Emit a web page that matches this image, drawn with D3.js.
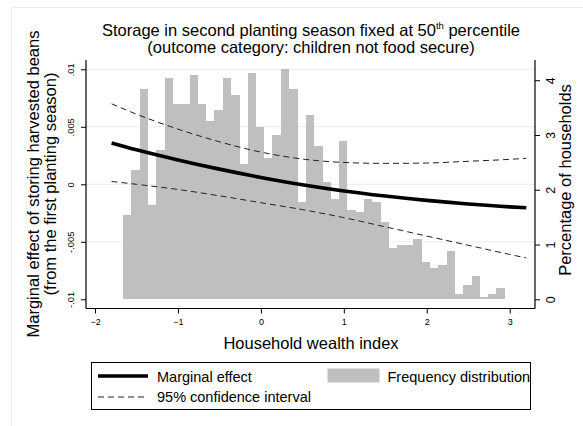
<!DOCTYPE html>
<html>
<head>
<meta charset="utf-8">
<script src="https://cdn.jsdelivr.net/npm/d3@7"></script>
<style>
  body { margin: 0; background: #fff; }
  svg { display: block; font-family: "Liberation Sans", Arial, sans-serif; }
</style>
</head>
<body>
<div id="chart"></div>
<script>
// histogram of the wealth index (percentage of households per 0.1 bin)
const binLeft = [
    -1.66, -1.56, -1.46, -1.36, -1.26, -1.16, -1.06, -0.96, -0.86, -0.76,
    -0.66, -0.56, -0.46, -0.36, -0.26, -0.16, -0.06, 0.04, 0.14, 0.24,
    0.34, 0.44, 0.54, 0.64, 0.74, 0.84, 0.94, 1.04, 1.14, 1.24,
    1.34, 1.44, 1.54, 1.64, 1.74, 1.84, 1.94, 2.04, 2.14, 2.24,
    2.34, 2.44, 2.54, 2.64, 2.74, 2.84
];
const binWidth = 0.1;
const pctHouseholds = [
    1.53, 2.36, 3.84, 1.72, 2.72, 4.04, 3.57, 3.57, 4.09, 3.57,
    3.25, 3.45, 4.04, 3.73, 2.47, 4.14, 3.15, 2.58, 3.00, 4.20,
    3.84, 1.78, 3.36, 2.79, 2.15, 1.84, 2.89, 1.63, 1.59, 1.83,
    1.77, 1.41, 0.94, 0.99, 0.99, 1.10, 0.69, 0.58, 0.63, 0.88,
    0.10, 0.26, 0.43, 0.05, 0.10, 0.20
];

// marginal effect and 95% CI read along the wealth index
const wealthX = [-1.8, -1.5, -1, -0.5, 0, 0.5, 1, 1.5, 2, 2.5, 3, 3.2];
const marginalEffect = [0.0036, 0.0030, 0.00212, 0.00132, 0.0006, -0.00004, -0.00058, -0.00102, -0.0014, -0.00171, -0.00196, -0.00204];
const ciUpper = [0.0070, 0.0061, 0.0048, 0.0037, 0.0028, 0.0022, 0.0019, 0.00182, 0.00185, 0.0020, 0.00217, 0.00226];
const ciLower = [0.00025, 0.0000, -0.00045, -0.0010, -0.0016, -0.0022, -0.0029, -0.0037, -0.0045, -0.0053, -0.0061, -0.0064];

const xTicks = [-2, -1, 0, 1, 2, 3];
const yLeftTicks = [-0.01, -0.005, 0, 0.005, 0.01];
const yLeftGrid = [-0.005, 0, 0.005, 0.01];
const yRightTicks = [0, 1, 2, 3, 4];

const width = 583, height = 426;
const plot = {left: 86, right: 535, top: 60, bottom: 308.5};
const font = "\"Liberation Sans\", Arial, sans-serif";

const svg = d3.select("#chart")
    .append("svg")
    .attr("width", width)
    .attr("height", height);

// faint outer graph region edge
svg.append("rect")
    .attr("x", 11.5).attr("y", 7.5)
    .attr("width", 700).attr("height", 600)
    .attr("fill", "none")
    .attr("stroke", "#ececec");

const x = d3.scaleLinear().domain([-2, 3]).range([95, 509.7]);
const yL = d3.scaleLinear().domain([-0.01, 0.01]).range([299.3, 69.3]);
const yR = d3.scaleLinear().domain([0, 4]).range([299.3, 80.2]);

// gridlines (behind the bars)
svg.append("g")
    .selectAll("line")
    .data(yLeftGrid)
    .join("line")
    .attr("x1", plot.left).attr("x2", plot.right)
    .attr("y1", d => yL(d)).attr("y2", d => yL(d))
    .attr("stroke", "#eaeaea")
    .attr("stroke-width", 1);

// histogram
const bins = binLeft.map((b, i) => ({x0: b, x1: b + binWidth, pct: pctHouseholds[i]}));
svg.append("g")
    .selectAll("rect")
    .data(bins)
    .join("rect")
    .attr("x", d => x(d.x0))
    .attr("width", d => x(d.x1) - x(d.x0) + 0.3)
    .attr("y", d => yR(d.pct))
    .attr("height", d => yR(0) - yR(d.pct))
    .attr("fill", "#bfbfbf")
    .attr("shape-rendering", "crispEdges");

// lines
const pts = arr => wealthX.map((w, i) => [w, arr[i]]);
const line = d3.line()
    .x(d => x(d[0]))
    .y(d => yL(d[1]))
    .curve(d3.curveMonotoneX);

svg.append("path")
    .attr("d", line(pts(ciUpper)))
    .attr("fill", "none").attr("stroke", "#222").attr("stroke-width", 1)
    .attr("stroke-dasharray", "6,4");
svg.append("path")
    .attr("d", line(pts(ciLower)))
    .attr("fill", "none").attr("stroke", "#222").attr("stroke-width", 1)
    .attr("stroke-dasharray", "6,4");
svg.append("path")
    .attr("d", line(pts(marginalEffect)))
    .attr("fill", "none").attr("stroke", "#000").attr("stroke-width", 3.6);

// axis lines
const axisLines = [
    [plot.left, plot.top, plot.left, plot.bottom],
    [plot.left, plot.bottom, plot.right, plot.bottom],
    [plot.right, plot.top, plot.right, plot.bottom]
];
svg.append("g")
    .selectAll("line")
    .data(axisLines)
    .join("line")
    .attr("x1", d => d[0]).attr("y1", d => d[1])
    .attr("x2", d => d[2]).attr("y2", d => d[3])
    .attr("stroke", "#000").attr("stroke-width", 1.2);

const stataFmt = d => d === 0 ? "0" : (d < 0 ? "-" : "") + String(Math.abs(d)).replace(/^0/, "");

// left axis
svg.append("g")
    .attr("transform", `translate(${plot.left},0)`)
    .call(d3.axisLeft(yL).tickValues(yLeftTicks).tickSize(5).tickFormat(stataFmt))
    .call(g => g.select(".domain").remove())
    .call(g => g.selectAll(".tick line").attr("stroke", "#000"))
    .call(g => g.selectAll(".tick text")
        .attr("transform", "rotate(-90)")
        .attr("x", 0).attr("y", -12).attr("dy", 0)
        .attr("text-anchor", "middle")
        .attr("font-family", font)
        .attr("font-size", 9.4)
        .attr("fill", "#000"));

// right axis
svg.append("g")
    .attr("transform", `translate(${plot.right},0)`)
    .call(d3.axisRight(yR).tickValues(yRightTicks).tickSize(5).tickFormat(d3.format("d")))
    .call(g => g.select(".domain").remove())
    .call(g => g.selectAll(".tick line").attr("stroke", "#000"))
    .call(g => g.selectAll(".tick text")
        .attr("transform", "rotate(-90)")
        .attr("x", 0).attr("y", 20).attr("dy", 0)
        .attr("text-anchor", "middle")
        .attr("font-family", font)
        .attr("font-size", 12.5)
        .attr("fill", "#000"));

// bottom axis
svg.append("g")
    .attr("transform", `translate(0,${plot.bottom})`)
    .call(d3.axisBottom(x).tickValues(xTicks).tickSize(5).tickFormat(d3.format("d")))
    .call(g => g.select(".domain").remove())
    .call(g => g.selectAll(".tick line").attr("stroke", "#000"))
    .call(g => g.selectAll(".tick text")
        .attr("y", 16.5).attr("dy", 0)
        .attr("font-family", font)
        .attr("font-size", 9)
        .attr("fill", "#000"));

// titles
const title = svg.append("text")
    .attr("x", 311).attr("y", 35.5)
    .attr("text-anchor", "middle")
    .attr("font-size", 16.5);
title.append("tspan").text("Storage in second planting season fixed at 50");
title.append("tspan").attr("font-size", 9.5).attr("dy", -6.5).text("th");
title.append("tspan").attr("dy", 6.5).text(" percentile");

svg.append("text")
    .attr("x", 311).attr("y", 53)
    .attr("text-anchor", "middle")
    .attr("font-size", 16.5)
    .text("(outcome category: children not food secure)");

svg.append("text")
    .attr("transform", "translate(39,184) rotate(-90)")
    .attr("text-anchor", "middle")
    .attr("font-size", 16.5)
    .text("Marginal effect of storing harvested beans");
svg.append("text")
    .attr("transform", "translate(55.5,184) rotate(-90)")
    .attr("text-anchor", "middle")
    .attr("font-size", 16.5)
    .text("(from the first planting season)");

svg.append("text")
    .attr("transform", "translate(571,180) rotate(-90)")
    .attr("text-anchor", "middle")
    .attr("font-size", 16.5)
    .text("Percentage of households");

svg.append("text")
    .attr("x", 311).attr("y", 349)
    .attr("text-anchor", "middle")
    .attr("font-size", 16.5)
    .text("Household wealth index");

// legend
const lg = svg.append("g");
lg.append("rect")
    .attr("x", 91.5).attr("y", 362.5)
    .attr("width", 439).attr("height", 47)
    .attr("fill", "#fff").attr("stroke", "#000").attr("stroke-width", 1);
lg.append("line")
    .attr("x1", 98).attr("x2", 148).attr("y1", 376).attr("y2", 376)
    .attr("stroke", "#000").attr("stroke-width", 3.6);
lg.append("line")
    .attr("x1", 98).attr("x2", 148).attr("y1", 397).attr("y2", 397)
    .attr("stroke", "#222").attr("stroke-width", 1).attr("stroke-dasharray", "6,4");
lg.append("rect")
    .attr("x", 327.5).attr("y", 368.5).attr("width", 52).attr("height", 14)
    .attr("fill", "#bfbfbf");
const legendText = [
    {label: "Marginal effect", x: 157, y: 381.5},
    {label: "95% confidence interval", x: 157, y: 402},
    {label: "Frequency distribution", x: 387.5, y: 381.5}
];
lg.selectAll("text.lab")
    .data(legendText)
    .join("text")
    .attr("class", "lab")
    .attr("x", d => d.x).attr("y", d => d.y)
    .attr("font-size", 14.5)
    .text(d => d.label);
</script>
</body>
</html>
